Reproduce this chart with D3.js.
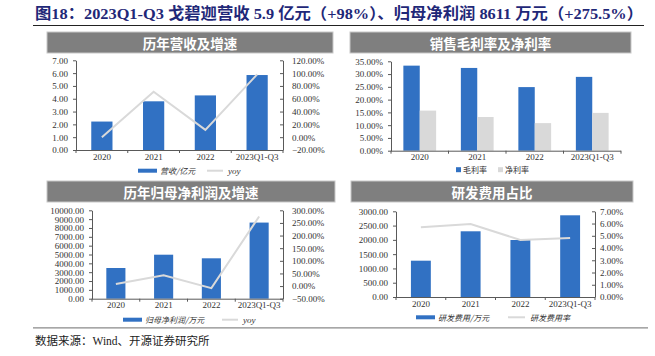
<!DOCTYPE html>
<html><head><meta charset="utf-8">
<script src="https://cdn.jsdelivr.net/npm/d3@7"></script>
<style>body{margin:0;background:#fff} svg{display:block}</style>
</head><body><svg id="c" width="655" height="356"></svg>
<script>
// ---------- data ----------
const categories = ["2020", "2021", "2022", "2023Q1-Q3"];
const revenue = [2.22, 3.80, 4.26, 5.85];            // 亿元
const revenueYoy = [0.0, 71.0, 11.5, 98.0];          // %
const grossMargin = [33.3, 32.4, 24.9, 28.9];        // %
const netMargin = [15.7, 13.2, 10.8, 14.8];          // %
const netProfit = [3473, 4977, 4570, 8611];          // 万元
const netProfitYoy = [8.3, 42.8, -8.2, 275.5];       // %
const rdExpense = [1271, 2300, 1995, 2860];          // 万元
const rdRatio = [5.69, 5.96, 4.66, 4.82];            // %

const revTicks = [0, 1, 2, 3, 4, 5, 6, 7];
const revYoyTicks = [-20, 0, 20, 40, 60, 80, 100, 120];
const marginTicks = [0, 5, 10, 15, 20, 25, 30, 35];
const profitTicks = [0, 1000, 2000, 3000, 4000, 5000, 6000, 7000, 8000, 9000, 10000];
const profitYoyTicks = [-50, 0, 50, 100, 150, 200, 250, 300];
const rdTicks = [0, 500, 1000, 1500, 2000, 2500, 3000];
const rdRatioTicks = [0, 1, 2, 3, 4, 5, 6, 7];

const titleText = "图18：2023Q1-Q3 戈碧迦营收 5.9 亿元（+98%）、归母净利润 8611 万元（+275.5%）";
const panelTitles = ["历年营收及增速", "销售毛利率及净利率", "历年归母净利润及增速", "研发费用占比"];
const legendLabels = [["营收/亿元", "yoy"], ["毛利率", "净利率"], ["归母净利润/万元", "yoy"], ["研发费用/万元", "研发费用率"]];
const sourceText = "数据来源：Wind、开源证券研究所";

// ---------- style ----------
const svg = d3.select("#c");
const BLUE = "#3171c3", LGRAY = "#d9d9d9", AXIS = "#595959", TXT = "#333";
const SERIF = "'Liberation Serif','Times New Roman','Noto Sans CJK SC',serif";
const CJK = "'Noto Sans CJK SC','Noto Sans',sans-serif";

// title
svg.append("text").attr("x", 35).attr("y", 18.5)
  .attr("font-family", SERIF).attr("font-weight", "bold").attr("font-size", 15.5)
  .attr("fill", "#1f2878").attr("textLength", 608).attr("lengthAdjust", "spacingAndGlyphs")
  .text(titleText);
svg.append("line").attr("x1", 33).attr("x2", 644).attr("y1", 25.5).attr("y2", 25.5)
  .attr("stroke", "#222").attr("stroke-width", 1.2);

function header(x0, x1, y0, y1, label) {
  svg.append("rect").attr("x", x0).attr("y", y0).attr("width", x1 - x0).attr("height", y1 - y0)
    .attr("fill", "#7f7f7f").attr("stroke", "#c8c8c8").attr("stroke-width", 1);
  svg.append("text").attr("x", (x0 + x1) / 2).attr("y", (y0 + y1) / 2)
    .attr("text-anchor", "middle").attr("dominant-baseline", "central")
    .attr("font-family", CJK).attr("font-weight", "bold").attr("font-size", 13.5)
    .attr("fill", "#fff").text(label);
}

function styleAxis(g) {
  g.select(".domain").attr("stroke", AXIS);
  g.selectAll(".tick line").attr("stroke", AXIS);
  g.selectAll("text").attr("font-family", SERIF).attr("font-size", 9).attr("fill", TXT);
}

function panel(o) {
  const x = d3.scaleBand().domain(categories).range([o.x0, o.x1])
    .paddingInner(o.pad).paddingOuter(o.pad / 2);
  const yL = d3.scaleLinear().domain(o.lDomain).range([o.y1, o.y0]);
  const g = svg.append("g");

  // bars
  const nb = o.bars.length;
  const bw = x.bandwidth() / nb;
  o.bars.forEach((b, j) => {
    g.selectAll(null).data(b.values).enter().append("rect")
      .attr("x", (d, i) => x(categories[i]) + j * bw)
      .attr("width", bw)
      .attr("y", d => yL(d))
      .attr("height", d => yL(o.lDomain[0]) - yL(d))
      .attr("fill", b.color);
  });

  // left axis
  const ga = svg.append("g").attr("transform", `translate(${o.x0},0)`)
    .call(d3.axisLeft(yL).tickValues(o.lTicks).tickFormat(o.lFmt).tickSize(3).tickSizeOuter(0).tickPadding(5));
  styleAxis(ga);

  // right axis
  let yR = null;
  if (o.rDomain) {
    yR = d3.scaleLinear().domain(o.rDomain).range([o.y1, o.y0]);
    const gr = svg.append("g").attr("transform", `translate(${o.x1},0)`)
      .call(d3.axisRight(yR).tickValues(o.rTicks).tickFormat(o.rFmt).tickSize(-3).tickSizeOuter(0).tickPadding(o.rPad));
    styleAxis(gr);
  }

  // bottom axis
  const gb = svg.append("g").attr("transform", `translate(0,${o.y1})`)
    .call(d3.axisBottom(x).tickSize(0).tickPadding(o.xPad));
  styleAxis(gb);
  gb.select(".domain").attr("d", `M${o.x0},0.5H${o.x1}`);
  for (let i = 0; i <= categories.length; i++) {
    const bx = o.x0 + x.step() * (i === 0 ? 0 : (i === categories.length ? categories.length : i)) ;
    const px = i === 0 ? o.x0 : (i === categories.length ? o.x1 : x(categories[i]) - x.step() * x.paddingInner() / 2);
    gb.append("line").attr("x1", px).attr("x2", px).attr("y1", 0).attr("y2", 3).attr("stroke", AXIS);
  }

  // line
  if (o.line) {
    const ln = d3.line().x((d, i) => x(categories[i]) + x.bandwidth() / 2).y(d => yR(d));
    svg.append("path").datum(o.line).attr("d", ln).attr("fill", "none")
      .attr("stroke", LGRAY).attr("stroke-width", 2);
  }

  // legend
  const L = o.legend;
  const lg = svg.append("g").attr("font-family", CJK).attr("font-size", 8).attr("fill", TXT);
  if (L.type === "barline") {
    lg.append("rect").attr("x", L.r0).attr("y", L.y - 2).attr("width", L.r1 - L.r0).attr("height", 4).attr("fill", BLUE);
    lg.append("text").attr("x", L.t0).attr("y", L.y).attr("dominant-baseline", "central").attr("font-style", "italic").text(L.labels[0]);
    lg.append("line").attr("x1", L.l0).attr("x2", L.l1).attr("y1", L.y).attr("y2", L.y).attr("stroke", LGRAY).attr("stroke-width", 2);
    lg.append("text").attr("x", L.t1).attr("y", L.y).attr("dominant-baseline", "central").attr("font-style", "italic")
      .attr("font-family", L.labels[1] === "yoy" ? SERIF : CJK).attr("font-size", L.labels[1] === "yoy" ? 9 : 8).text(L.labels[1]);
  } else {
    lg.append("rect").attr("x", L.s0).attr("y", L.y - 2.5).attr("width", 5).attr("height", 5).attr("fill", BLUE);
    lg.append("text").attr("x", L.s0 + 7).attr("y", L.y).attr("dominant-baseline", "central").text(L.labels[0]);
    lg.append("rect").attr("x", L.s1).attr("y", L.y - 2.5).attr("width", 5).attr("height", 5).attr("fill", LGRAY);
    lg.append("text").attr("x", L.s1 + 7).attr("y", L.y).attr("dominant-baseline", "central").text(L.labels[1]);
  }
}

const f2 = d3.format(".2f");
const pct = d => d3.format(".2f")(d) + "%";

// panel 1
header(47, 333, 32, 53, panelTitles[0]);
panel({x0: 76, x1: 283, y0: 60.3, y1: 150, pad: 0.59,
  lDomain: [0, 7], lTicks: revTicks, lFmt: f2,
  rDomain: [-20, 120], rTicks: revYoyTicks, rFmt: pct, rPad: 9,
  bars: [{values: revenue, color: BLUE}], line: revenueYoy, xPad: 3.5,
  legend: {type: "barline", y: 170.7, r0: 138, r1: 157, t0: 160, l0: 207, l1: 223, t1: 228, labels: legendLabels[0]}});

// panel 2
header(350, 631, 32, 53, panelTitles[1]);
panel({x0: 391, x1: 621, y0: 61.3, y1: 150.7, pad: 0.43,
  lDomain: [0, 35], lTicks: marginTicks, lFmt: pct,
  bars: [{values: grossMargin, color: BLUE}, {values: netMargin, color: LGRAY}], xPad: 3,
  legend: {type: "squares", y: 169.7, s0: 456, s1: 498, labels: legendLabels[1]}});

// panel 3
header(47, 335, 181, 202, panelTitles[2]);
panel({x0: 92, x1: 283, y0: 210.3, y1: 298.7, pad: 0.6,
  lDomain: [0, 10000], lTicks: profitTicks, lFmt: f2,
  rDomain: [-50, 300], rTicks: profitYoyTicks, rFmt: pct, rPad: 9,
  bars: [{values: netProfit, color: BLUE}], line: netProfitYoy, xPad: 3,
  legend: {type: "barline", y: 319.7, r0: 123, r1: 142, t0: 145, l0: 222, l1: 238, t1: 243, labels: legendLabels[2]}});

// panel 4
header(351, 633, 181, 202, panelTitles[3]);
panel({x0: 396, x1: 595, y0: 211.3, y1: 297, pad: 0.6,
  lDomain: [0, 3000], lTicks: rdTicks, lFmt: f2,
  rDomain: [0, 7], rTicks: rdRatioTicks, rFmt: pct, rPad: 5,
  bars: [{values: rdExpense, color: BLUE}], line: rdRatio, xPad: 3.5,
  legend: {type: "barline", y: 317.3, r0: 416, r1: 435, t0: 438, l0: 508, l1: 525, t1: 530, labels: legendLabels[3]}});

// footer
svg.append("line").attr("x1", 33).attr("x2", 648).attr("y1", 327.8).attr("y2", 327.8)
  .attr("stroke", "#8a8a8a").attr("stroke-width", 1.3);
svg.append("text").attr("x", 35).attr("y", 341).attr("dominant-baseline", "central")
  .attr("font-family", SERIF).attr("font-size", 11.5).attr("fill", "#222").text(sourceText);
</script></body></html>
